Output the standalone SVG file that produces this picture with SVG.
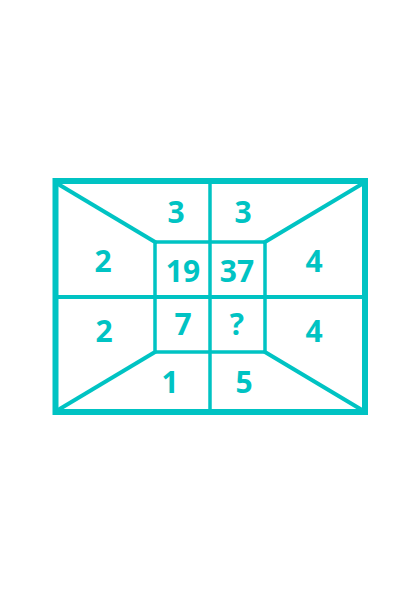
<svg xmlns="http://www.w3.org/2000/svg" width="420" height="594" viewBox="0 0 420 594">
<style>
.ln{stroke:#00c3c3;fill:none;stroke-linecap:square;stroke-linejoin:round}
.t{fill:#00c3c3;font-family:"Open Sans","Liberation Sans",sans-serif;font-weight:bold;font-size:30px;text-anchor:middle}
</style>
<rect width="420" height="594" fill="#fff"/>
<g id="connectors">
<line class="ln" x1="210" y1="182" x2="210" y2="411" stroke-width="3.5"/>
<line class="ln" x1="57" y1="297" x2="363" y2="297" stroke-width="4"/>
<line class="ln" x1="58" y1="184" x2="155" y2="242" stroke-width="4"/>
<line class="ln" x1="362" y1="184" x2="265" y2="242" stroke-width="4"/>
<line class="ln" x1="58" y1="410" x2="155" y2="352" stroke-width="4"/>
<line class="ln" x1="362" y1="410" x2="265" y2="352" stroke-width="4"/>
</g>
<g id="outer"><rect x="55.5" y="181" width="309.5" height="231" fill="none" stroke="#00c3c3" stroke-width="6" stroke-linejoin="miter"/></g>
<g id="inner"><rect class="ln" x="155" y="242" width="110" height="110" stroke-width="3.5" rx="2"/></g>
<g id="n-top-left"><text class="t" x="176" y="223">3</text></g>
<g id="n-top-right"><text class="t" x="243" y="223">3</text></g>
<g id="n-left-top"><text class="t" x="103" y="272">2</text></g>
<g id="n-19"><text class="t" x="183" y="282">19</text></g>
<g id="n-37"><text class="t" x="237" y="282">37</text></g>
<g id="n-right-top"><text class="t" x="314" y="272">4</text></g>
<g id="n-left-bottom"><text class="t" x="104" y="342">2</text></g>
<g id="n-7"><text class="t" x="183" y="335">7</text></g>
<g id="n-q"><text class="t" x="237" y="335">?</text></g>
<g id="n-right-bottom"><text class="t" x="314" y="342">4</text></g>
<g id="n-bottom-left"><text class="t" x="170" y="393">1</text></g>
<g id="n-bottom-right"><text class="t" x="244" y="393">5</text></g>
</svg>
